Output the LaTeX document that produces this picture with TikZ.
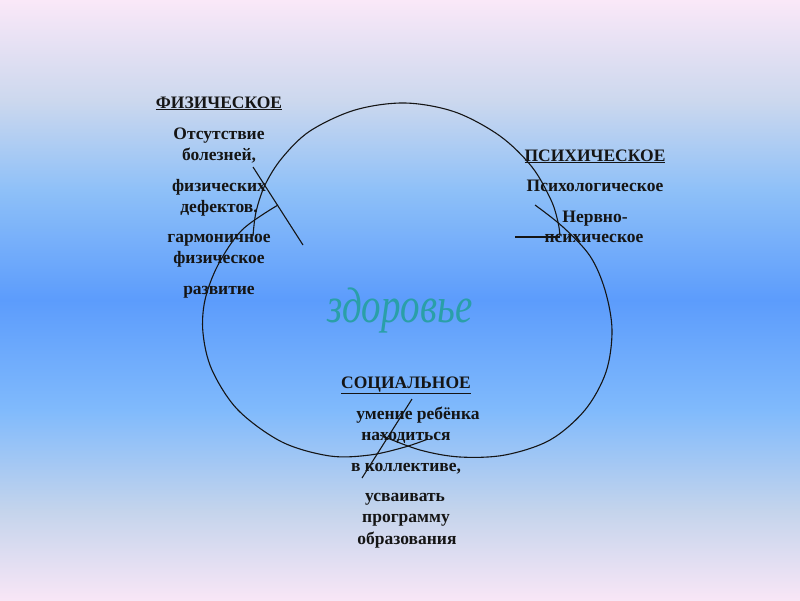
\documentclass[tikz,border=0pt]{standalone}
\usepackage{fontspec}
\setmainfont{Liberation Serif}
\usepackage{graphicx}
\definecolor{c0}{HTML}{FAE8F8}
\definecolor{c1}{HTML}{CCD8EE}
\definecolor{c2}{HTML}{8EC0F8}
\definecolor{c3}{HTML}{5C9CFC}
\definecolor{c4}{HTML}{80BAFC}
\definecolor{c5}{HTML}{C4D4EC}
\definecolor{c6}{HTML}{F8E6F6}
\definecolor{ink}{HTML}{151515}
\definecolor{teal}{HTML}{2A9FA8}
\newcommand{\zword}{\scalebox{0.78}[1]{\itshape\fontsize{50}{50}\selectfont здоровье}}
\begin{document}
\begin{tikzpicture}[x=1pt,y=-1pt,
  lbl/.style={font=\bfseries\fontsize{17.5}{17.5}\selectfont, anchor=base, inner sep=0pt, text=ink},
  outline/.style={draw=ink, line width=1.1pt, smooth, tension=0.55},
  stray/.style={draw=ink, line width=1.1pt},
]
\useasboundingbox (0,0) rectangle (800,600);
% background gradient
\shade[top color=c0, bottom color=c1] (0,0) rectangle (800,100.5);
\shade[top color=c1, bottom color=c2] (0,100) rectangle (800,190.5);
\shade[top color=c2, bottom color=c3] (0,190) rectangle (800,300.5);
\shade[top color=c3, bottom color=c4] (0,300) rectangle (800,410.5);
\shade[top color=c4, bottom color=c5] (0,410) rectangle (800,510.5);
\shade[top color=c5, bottom color=c6] (0,510) rectangle (800,600);

% outline curves
\draw[outline] plot coordinates {(253,236) (256,212) (265,185) (282,158) (310,131) (355,110) (405,103) (455,112) (500,136) (532,167) (551,200) (558,222) (560,236)};
\draw[outline] plot coordinates {(278,205) (242,230) (218,265) (205,300) (203,333) (212,370) (238,410) (282,442) (330,456) (370,455) (405,447) (428,439)};
\draw[outline] plot coordinates {(535,205) (563,227) (590,256) (605,290) (612,330) (606,372) (585,410) (550,440) (505,455) (460,457) (420,450) (380,435)};

% stray strokes
\coordinate (s1a) at (253,167); \coordinate (s1b) at (303,245);
\coordinate (s2a) at (515,237); \coordinate (s2b) at (560,237);
\coordinate (s3a) at (412,399); \coordinate (s3b) at (362,478);
\draw[stray] (s1a) -- (s1b);
\draw[stray] (s2a) -- (s2b);
\draw[stray] (s3a) -- (s3b);

% central word
\node[inner sep=0pt, text=teal] (zdor) at (400,310) {\zword};

% physical
\node[lbl] (p0) at (219,108) {\underline{ФИЗИЧЕСКОЕ}};
\node[lbl] (p1) at (219,139) {Отсутствие};
\node[lbl] (p2) at (219,160) {болезней,};
\node[lbl] (p3) at (219,191) {физических};
\node[lbl] (p4) at (219,212) {дефектов.};
\node[lbl] (p5) at (219,242) {гармоничное};
\node[lbl] (p6) at (219,263) {физическое};
\node[lbl] (p7) at (219,294) {развитие};

% psychic
\node[lbl] (q0) at (595,161) {\underline{ПСИХИЧЕСКОЕ}};
\node[lbl] (q1) at (595,191) {Психологическое};
\node[lbl] (q2) at (595,222) {Нервно-};
\node[lbl] (q3) at (594,242) {психическое};

% social
\node[lbl] (r0) at (406,388) {\underline{СОЦИАЛЬНОЕ}};
\node[lbl] (r1) at (418,419) {умение ребёнка};
\node[lbl] (r2) at (406,440) {находиться};
\node[lbl] (r3) at (406,471) {в коллективе,};
\node[lbl] (r4) at (405,501) {усваивать};
\node[lbl] (r5) at (406,522) {программу};
\node[lbl] (r6) at (407,544) {образования};
\end{tikzpicture}
\end{document}
